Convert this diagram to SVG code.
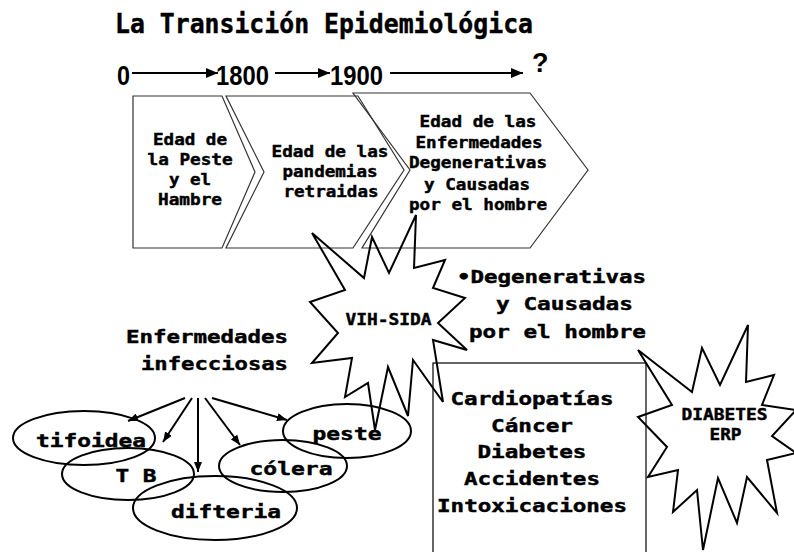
<svg xmlns="http://www.w3.org/2000/svg" width="794" height="552" viewBox="0 0 794 552">
<defs>
<marker id="ah" viewBox="0 0 12 10" refX="12" refY="5" markerWidth="13" markerHeight="10" markerUnits="userSpaceOnUse" orient="auto">
<path d="M0,0 L12,5 L0,10 Z" fill="#000"/>
</marker>
<marker id="ah2" viewBox="0 0 10 8" refX="10" refY="4" markerWidth="10" markerHeight="8" markerUnits="userSpaceOnUse" orient="auto">
<path d="M0,0 L10,4 L0,8 Z" fill="#000"/>
</marker>
</defs>
<style>
.m{font-family:"DejaVu Sans Mono","Liberation Mono",monospace;font-weight:bold;fill:#000;stroke:#000;stroke-width:0.45}
.a{font-size:16px;text-anchor:middle}
.b{font-size:18px}
.c{text-anchor:middle}
.n{font-family:"Liberation Sans",Arial,sans-serif;font-weight:bold;font-size:27px;fill:#000}
.chev{fill:none;stroke:#333;stroke-width:1.2}
.star{fill:none;stroke:#000;stroke-width:2;stroke-linejoin:miter}
.ell{fill:none;stroke:#000;stroke-width:2}
.tl{stroke:#000;stroke-width:2;fill:none}
.ar{stroke:#000;stroke-width:2;fill:none}
</style>
<rect width="794" height="552" fill="#fff"/>

<g id="title">
<text class="m" x="115" y="33" font-size="27" stroke-width="0.6" textLength="418" lengthAdjust="spacingAndGlyphs">La Transición Epidemiológica</text>
</g>

<g id="timeline">
<text class="n" x="117" y="85" textLength="13" lengthAdjust="spacingAndGlyphs">0</text>
<text class="n" x="216" y="85" textLength="53" lengthAdjust="spacingAndGlyphs">1800</text>
<text class="n" x="330" y="85" textLength="53" lengthAdjust="spacingAndGlyphs">1900</text>
<text class="n" x="532" y="72">?</text>
</g>

<g id="connectors">
<line class="tl" x1="132" y1="73" x2="218" y2="73" marker-end="url(#ah)"/>
<line class="tl" x1="275" y1="73" x2="330" y2="73" marker-end="url(#ah)"/>
<line class="tl" x1="390" y1="73" x2="523" y2="73" marker-end="url(#ah)"/>
<line class="ar" x1="185" y1="398" x2="128" y2="421" marker-end="url(#ah2)"/>
<line class="ar" x1="192" y1="398" x2="163" y2="442" marker-end="url(#ah2)"/>
<line class="ar" x1="198" y1="398" x2="198" y2="472" marker-end="url(#ah2)"/>
<line class="ar" x1="205" y1="398" x2="240" y2="445" marker-end="url(#ah2)"/>
<line class="ar" x1="212" y1="398" x2="287" y2="420" marker-end="url(#ah2)"/>
</g>

<g id="chevron1">
<polygon class="chev" points="133,96 222,96 255,172 222,248 133,248"/>
<text class="m a" x="190" y="145" textLength="74" lengthAdjust="spacingAndGlyphs">Edad de</text>
<text class="m a" x="190" y="165" textLength="85" lengthAdjust="spacingAndGlyphs">la Peste</text>
<text class="m a" x="190" y="185" textLength="42" lengthAdjust="spacingAndGlyphs">y el</text>
<text class="m a" x="190" y="205" textLength="64" lengthAdjust="spacingAndGlyphs">Hambre</text>
</g>

<g id="chevron2">
<polygon class="chev" points="226,96 358,96 404,170 353,248 226,248 264,172"/>
<text class="m a" x="330" y="157" textLength="117" lengthAdjust="spacingAndGlyphs">Edad de las</text>
<text class="m a" x="330" y="177" textLength="95" lengthAdjust="spacingAndGlyphs">pandemias</text>
<text class="m a" x="331" y="197" textLength="95" lengthAdjust="spacingAndGlyphs">retraidas</text>
</g>

<g id="chevron3">
<polygon class="chev" points="353,93 530,93 588,170 530,248 362,248 410,170"/>
<text class="m a" x="478" y="127" textLength="117" lengthAdjust="spacingAndGlyphs">Edad de las</text>
<text class="m a" x="479" y="148" textLength="127" lengthAdjust="spacingAndGlyphs">Enfermedades</text>
<text class="m a" x="478" y="168" textLength="138" lengthAdjust="spacingAndGlyphs">Degenerativas</text>
<text class="m a" x="477" y="190" textLength="106" lengthAdjust="spacingAndGlyphs">y Causadas</text>
<text class="m a" x="478" y="210" textLength="138" lengthAdjust="spacingAndGlyphs">por el hombre</text>
</g>

<g id="vih-sida">
<polygon class="star" points="467,350 433,340 443,402 413,360 408,416 388,367 375,430 368,383 345,397 352,358 312,363 338,333 310,302 345,290 312,233 364,278 372,237 389,273 416,215 414,268 445,260 433,288 465,298 438,323"/>
<text class="m a" x="388.5" y="325" textLength="86" lengthAdjust="spacingAndGlyphs">VIH-SIDA</text>
</g>

<g id="diabetes-erp">
<polygon class="star" points="638,350 692,392 702,348 720,385 748,325 746,382 774,375 762,405 796,410 772,436 796,453 767,460 777,513 747,477 737,523 718,478 703,550 697,490 673,512 678,470 648,477 667,447 638,417 672,405"/>
<text class="m a" x="724.5" y="420" textLength="86" lengthAdjust="spacingAndGlyphs">DIABETES</text>
<text class="m a" x="725.5" y="440" textLength="32" lengthAdjust="spacingAndGlyphs">ERP</text>
</g>

<g id="infecciosas">
<text class="m b" x="126" y="343" textLength="162" lengthAdjust="spacingAndGlyphs">Enfermedades</text>
<text class="m b" x="141" y="370" textLength="147" lengthAdjust="spacingAndGlyphs">infecciosas</text>
</g>

<g id="tifoidea">
<ellipse class="ell" cx="84" cy="438" rx="71" ry="27"/>
<text class="m b c" x="91" y="447" textLength="110" lengthAdjust="spacingAndGlyphs">tifoidea</text>
</g>
<g id="tb">
<ellipse class="ell" cx="128" cy="474" rx="66" ry="26"/>
<text class="m b c" x="136" y="482" textLength="41" lengthAdjust="spacingAndGlyphs">T B</text>
</g>
<g id="difteria">
<ellipse class="ell" cx="215" cy="508" rx="82" ry="32"/>
<text class="m b c" x="226" y="518" textLength="110" lengthAdjust="spacingAndGlyphs">difteria</text>
</g>
<g id="colera">
<ellipse class="ell" cx="283" cy="466" rx="64" ry="26"/>
<text class="m b c" x="291" y="475" textLength="83" lengthAdjust="spacingAndGlyphs">cólera</text>
</g>
<g id="peste">
<ellipse class="ell" cx="347" cy="431" rx="64" ry="27"/>
<text class="m b c" x="347" y="440" textLength="69" lengthAdjust="spacingAndGlyphs">peste</text>
</g>

<g id="degenerativas">
<text class="m b" x="457" y="283" textLength="189" lengthAdjust="spacingAndGlyphs">•Degenerativas</text>
<text class="m b" x="496" y="310" textLength="137" lengthAdjust="spacingAndGlyphs">y Causadas</text>
<text class="m b" x="469" y="338" textLength="177" lengthAdjust="spacingAndGlyphs">por el hombre</text>
</g>

<g id="box">
<rect x="433" y="363" width="213" height="200" fill="none" stroke="#000" stroke-width="1.2"/>
<text class="m b c" x="532" y="405" textLength="163" lengthAdjust="spacingAndGlyphs">Cardiopatías</text>
<text class="m b c" x="532" y="432" textLength="82" lengthAdjust="spacingAndGlyphs">Cáncer</text>
<text class="m b c" x="532" y="458" textLength="109" lengthAdjust="spacingAndGlyphs">Diabetes</text>
<text class="m b c" x="532" y="485" textLength="136" lengthAdjust="spacingAndGlyphs">Accidentes</text>
<text class="m b c" x="532" y="512" textLength="190" lengthAdjust="spacingAndGlyphs">Intoxicaciones</text>
</g>
</svg>
